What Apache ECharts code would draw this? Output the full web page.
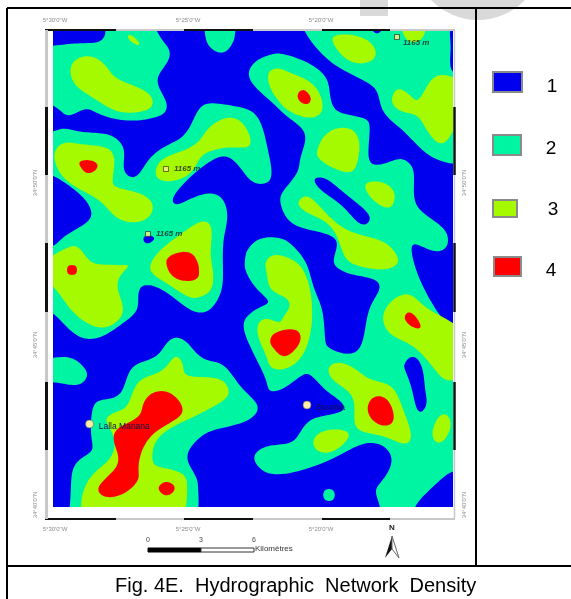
<!DOCTYPE html>
<html><head><meta charset="utf-8">
<style>html,body{margin:0;padding:0;background:#fff}#c{width:571px;height:599px}</style>
<script src="https://cdn.jsdelivr.net/npm/echarts@6/dist/echarts.min.js"></script>
</head><body><div id="c"></div>
<script>
// Map-sheet coordinates of the density zones (sheet units, y grows southward)
const sheetExtent = [[53,31],[453,31],[453,507],[53,507]];
const class2Zones = [
 [[40,50],[60,45],[83,43],[100,42],[106,33],[106,20],[150,20],[160,38],[170,50],[168,62],[157,77],[160,90],[167,103],[165,113],[153,118],[133,121],[110,118],[97,113],[85,108],[68,117],[57,107],[40,98]],
 [[205,18],[205,33],[207,43],[213,50],[221,53],[228,50],[234,40],[235,33],[235,18]],
 [[40,132],[53,132],[63,128],[80,132],[100,133],[115,137],[125,150],[123,170],[132,178],[140,173],[148,160],[163,147],[182,138],[192,123],[200,107],[210,103],[233,106],[257,113],[267,147],[272,173],[268,183],[253,183],[242,170],[227,155],[207,163],[172,197],[175,205],[188,200],[207,193],[222,197],[228,217],[223,240],[223,270],[222,290],[213,307],[203,313],[190,310],[173,297],[157,287],[143,285],[138,293],[138,310],[123,323],[100,338],[80,338],[63,323],[53,313],[40,305],[40,247],[53,247],[63,237],[80,227],[92,217],[88,203],[75,190],[53,175],[40,170]],
 [[40,360],[53,358],[70,357],[82,365],[88,375],[80,385],[65,384],[53,382],[40,380]],
 [[70,525],[70,507],[71,487],[73,467],[83,457],[93,450],[91,437],[92,410],[98,400],[120,397],[128,373],[138,363],[157,357],[167,342],[177,337],[188,343],[203,360],[223,363],[240,387],[257,403],[257,413],[243,423],[213,430],[200,437],[185,457],[197,477],[198,493],[195,525]],
 [[270,55],[280,53],[313,65],[328,80],[330,97],[337,113],[367,118],[370,130],[368,157],[373,165],[387,163],[402,158],[415,170],[413,203],[433,220],[447,232],[447,248],[433,252],[412,242],[413,260],[423,287],[443,320],[454,328],[468,330],[468,470],[453,470],[433,487],[413,508],[412,525],[385,525],[380,505],[375,490],[383,480],[393,460],[383,445],[363,443],[337,457],[303,470],[270,475],[255,463],[255,453],[270,445],[293,443],[303,427],[315,417],[343,412],[343,403],[327,392],[313,377],[305,373],[287,387],[270,392],[267,383],[262,370],[247,340],[243,320],[260,307],[270,302],[257,290],[245,270],[245,260],[247,250],[260,238],[280,238],[290,243],[307,263],[313,287],[323,310],[325,340],[328,348],[360,355],[367,310],[380,290],[377,280],[353,275],[337,268],[333,260],[338,243],[330,235],[310,230],[290,223],[280,203],[282,192],[298,173],[300,157],[307,133],[287,117],[272,102],[253,85],[248,72],[257,60]],
 [[303,18],[305,32],[318,50],[337,67],[367,82],[378,92],[382,112],[403,130],[420,148],[437,160],[468,163],[468,18]],
 [[329,489],[333,490],[335,495],[333,500],[329,501],[325,500],[323,495],[325,490]]
];
const class1Pockets = [
 [[315,178],[325,178],[337,187],[353,200],[368,213],[370,220],[365,225],[357,222],[342,205],[323,192],[315,183]],
 [[405,363],[410,357],[417,358],[423,370],[425,390],[427,403],[422,412],[417,410],[413,393],[408,377],[404,367]],
 [[372,25],[372,30],[377,34],[382,30],[382,25]],
 [[450,25],[451,45],[450,60],[452,72],[460,72],[460,25]],
 [[143,238],[148,235],[155,238],[150,243],[145,243]]
];
const class3Zones = [
 [[128,35],[133,36],[140,44],[138,45],[133,43],[128,38]],
 [[71,65],[80,57],[95,57],[107,67],[115,78],[140,88],[152,97],[152,107],[140,112],[117,112],[97,100],[78,88],[71,77]],
 [[55,150],[65,142],[83,145],[110,148],[115,163],[112,183],[118,188],[140,193],[153,203],[150,217],[133,223],[115,217],[103,203],[87,193],[65,180],[55,163]],
 [[155,177],[160,160],[180,152],[198,143],[208,128],[227,117],[243,122],[252,147],[233,147],[213,150],[200,157],[192,173],[170,182]],
 [[44,262],[63,250],[77,245],[88,260],[100,265],[128,265],[128,267],[115,283],[125,310],[113,325],[97,328],[73,313],[57,290],[44,277]],
 [[148,270],[160,250],[180,235],[203,220],[212,227],[210,253],[213,270],[212,290],[200,297],[190,298],[167,283]],
 [[83,525],[84,487],[97,470],[112,457],[115,437],[105,420],[113,413],[128,407],[137,380],[163,372],[175,355],[183,363],[185,377],[220,377],[230,393],[220,403],[187,420],[157,437],[152,460],[157,467],[185,473],[187,493],[180,525]],
 [[265,263],[272,255],[287,257],[305,270],[313,317],[303,357],[283,370],[270,367],[267,357],[258,337],[258,323],[267,318],[280,323],[283,317],[290,307],[287,298],[270,290],[267,273]],
 [[268,72],[278,68],[290,73],[313,83],[323,103],[320,115],[307,118],[287,110],[278,100],[270,88]],
 [[317,150],[327,132],[347,127],[359,137],[358,160],[352,173],[333,168],[318,158]],
 [[332,35],[367,38],[377,55],[367,63],[350,62],[335,47]],
 [[400,22],[425,22],[424,36],[417,42],[408,41],[403,33]],
 [[392,97],[398,88],[410,95],[418,102],[430,80],[443,74],[462,83],[462,107],[447,142],[437,143],[425,127],[417,115],[402,112],[393,105]],
 [[364,183],[383,182],[395,192],[392,207],[383,207],[370,197]],
 [[297,203],[307,195],[320,207],[347,232],[383,240],[398,257],[397,265],[383,270],[355,265],[345,258],[338,238],[327,222],[307,213]],
 [[382,317],[392,300],[410,293],[427,310],[465,330],[465,372],[447,382],[433,367],[413,345],[390,335]],
 [[328,367],[340,362],[357,370],[370,380],[392,385],[403,410],[412,437],[405,445],[383,435],[355,430],[355,407],[350,392],[332,380]],
 [[312,442],[323,430],[352,432],[337,450],[320,453]],
 [[432,430],[443,412],[452,423],[443,442],[435,442]]
];
const class4Zones = [
 [[79,161],[95,161],[98,168],[88,174],[81,168]],
 [[167,257],[190,251],[198,263],[199,270],[198,279],[183,281],[172,276],[167,267]],
 [[72,265],[76,266],[77,270],[76,274],[72,275],[68,274],[67,270],[68,266]],
 [[303,89],[311,97],[309,104],[301,103],[297,95]],
 [[143,403],[153,392],[170,392],[183,407],[180,417],[157,430],[143,447],[138,468],[139,480],[122,495],[103,497],[97,487],[115,470],[119,457],[113,440],[117,428],[140,417]],
 [[158,487],[167,481],[176,488],[168,496],[161,493]],
 [[272,335],[283,330],[298,330],[301,340],[293,352],[283,357],[275,350],[270,343]],
 [[404,317],[410,311],[421,325],[419,329],[409,325]],
 [[367,408],[373,397],[385,397],[393,410],[393,423],[383,426],[372,420]]
];
const classColors = {c1:'#0000ee', c2:'#00f5a3', c3:'#a6fa00', c4:'#ff0000'};
const legendLabels = ['1','2','3','4'];
const summits = [{name:'1165 m',value:[166,169]},{name:'1165 m',value:[148,234]},{name:'1165 m',value:[397,37],label:{offset:[-2,6]}}];
const towns = [{name:'Lalla Manana',value:[89.5,424]},{name:'Boumia',value:[307,405]}];
const lonTicks = [[55,"5°30'0\"W"],[188,"5°25'0\"W"],[321,"5°20'0\"W"]];
const latTicks = [[183,"34°50'0\"N"],[345,"34°45'0\"N"],[505,"34°40'0\"N"]];
const frameLonBreaks = [45,116,184,253,322,390,455];
const frameLatBreaks = [30,107,175,243,312,382,450,519];
const scaleLabels = ['0','3','6'];
const caption = 'Fig. 4E.  Hydrographic  Network  Density';

// rounded outline through the traced points: centripetal Catmull-Rom, then a light moving average
function roundOutline(pts){
  const n=pts.length, out=[], d=(a,b)=>Math.pow(Math.hypot(a[0]-b[0],a[1]-b[1])||1e-3,0.5);
  const lerp=(a,b,ta,tb,t)=>[a[0]+(b[0]-a[0])*(t-ta)/(tb-ta),a[1]+(b[1]-a[1])*(t-ta)/(tb-ta)];
  const S=8;
  for(let i=0;i<n;i++){
    const p0=pts[(i+n-1)%n],p1=pts[i],p2=pts[(i+1)%n],p3=pts[(i+2)%n];
    const t0=0,t1=t0+d(p0,p1),t2=t1+d(p1,p2),t3=t2+d(p2,p3);
    for(let s=0;s<S;s++){
      const t=t1+(t2-t1)*s/S;
      const a1=lerp(p0,p1,t0,t1,t),a2=lerp(p1,p2,t1,t2,t),a3=lerp(p2,p3,t2,t3,t);
      const b1=lerp(a1,a2,t0,t2,t),b2=lerp(a2,a3,t1,t3,t);
      out.push(lerp(b1,b2,t1,t2,t));
    }
  }
  const m=out.length, W=4;
  return out.map((_,i)=>{
    let x=0,y=0;
    for(let k=-W;k<=W;k++){const q=out[(i+k+m)%m];x+=q[0];y+=q[1];}
    return [x/(2*W+1),y/(2*W+1)];
  });
}
function zoneSeries(name, zones, color, round){
  return {type:'custom', name, coordinateSystem:'cartesian2d', silent:true, animation:false,
    data:zones.map((z,i)=>i),
    renderItem(params, api){
      const a = api.coord(sheetExtent[0]), b = api.coord(sheetExtent[2]);
      const z = zones[params.dataIndex];
      return {type:'polygon',
        shape:{points:(round?roundOutline(z):z).map(p=>api.coord(p))},
        style:{fill:color},
        clipPath:{type:'rect', shape:{x:a[0],y:a[1],width:b[0]-a[0],height:b[1]-a[1]}}};
    }};
}
function frameSeries(){
  const segs=[];
  frameLonBreaks.slice(0,-1).forEach((v,i)=>{const dark=i%2==0;
    segs.push({p:[[v,30],[frameLonBreaks[i+1],30]],dark,w:2});
    segs.push({p:[[v,519],[frameLonBreaks[i+1],519]],dark,w:2});});
  frameLatBreaks.slice(0,-1).forEach((v,i)=>{const dark=i%2==1;
    segs.push({p:[[46.5,v],[46.5,frameLatBreaks[i+1]]],dark,w:3});
    segs.push({p:[[454.5,v],[454.5,frameLatBreaks[i+1]]],dark,w:dark?2.5:1.5});});
  return {type:'custom', name:'Frame', silent:true, animation:false, data:segs.map((s,i)=>i),
    renderItem(params, api){
      const s=segs[params.dataIndex], a=api.coord(s.p[0]), b=api.coord(s.p[1]);
      return {type:'line', shape:{x1:a[0],y1:a[1],x2:b[0],y2:b[1]},
        style:{stroke:s.dark?'#111':'#c8c8c8', lineWidth:s.w}};
    }};
}
const tickAxis = (ticks, extra)=>Object.assign({
  type:'value', axisLine:{show:false}, axisTick:{show:false}, splitLine:{show:false},
  axisLabel:{customValues:ticks.map(t=>t[0]), color:'#8c8c8c', fontSize:6, fontFamily:'Liberation Sans',
    formatter:v=>{const t=ticks.find(k=>k[0]===v);return t?t[1]:'';}}
},extra);

const F='Liberation Sans';
const gfx=[];
// faded background shapes
gfx.push({type:'circle',z:-1,shape:{cx:478,cy:-45,r:65},style:{fill:'#d9d9d9'}});
gfx.push({type:'rect',z:-1,shape:{x:360,y:0,width:28,height:16},style:{fill:'#d9d9d9'}});
// page rules
[[7,8,7,599],[7,8,571,8],[476,8,476,566],[7,566,571,566]].forEach(l=>gfx.push({type:'line',shape:{x1:l[0],y1:l[1],x2:l[2],y2:l[3]},style:{stroke:'#000',lineWidth:2}}));
// legend
[[493,72,29,20,552,87],[493,135,28,20,551,149],[493,200,24,17,553,210],[494,257,27,19,551,271]].forEach((r,i)=>{
  gfx.push({type:'rect',shape:{x:r[0],y:r[1],width:r[2],height:r[3]},style:{fill:classColors['c'+(i+1)],stroke:'#8a8a8a',lineWidth:2}});
  gfx.push({type:'text',style:{x:r[4],y:r[5],text:legendLabels[i],font:'19px '+F,fill:'#000',align:'center',verticalAlign:'middle'}});
});
// scale bar
gfx.push({type:'rect',shape:{x:148,y:548,width:53,height:4},style:{fill:'#000',stroke:'#000',lineWidth:1}});
gfx.push({type:'rect',shape:{x:201,y:548,width:53,height:4},style:{fill:'#fff',stroke:'#333',lineWidth:1}});
scaleLabels.forEach((t,i)=>gfx.push({type:'text',style:{x:148+53*i,y:540,text:t,font:'7px '+F,fill:'#444',align:'center',verticalAlign:'middle'}}));
gfx.push({type:'text',style:{x:255,y:549,text:'Kilomètres',font:'8px '+F,fill:'#333',verticalAlign:'middle'}});
// north arrow
gfx.push({type:'text',style:{x:392,y:528,text:'N',font:'bold 8px '+F,fill:'#222',align:'center',verticalAlign:'middle'}});
gfx.push({type:'polygon',shape:{points:[[392,536],[385,558],[392,549]]},style:{fill:'#111'}});
gfx.push({type:'polygon',shape:{points:[[392,536],[399,558],[392,549]]},style:{fill:'#fff',stroke:'#666',lineWidth:1}});
// caption
gfx.push({type:'text',style:{x:115,y:586,text:caption,font:'20px '+F,fill:'#000',align:'left',verticalAlign:'middle'}});

const option={
  animation:false, backgroundColor:'transparent',
  grid:{left:45,top:30,width:409,height:489,containLabel:false},
  xAxis:[tickAxis(lonTicks,{min:45,max:454,position:'bottom'}),tickAxis(lonTicks,{min:45,max:454,position:'top'})],
  yAxis:[tickAxis(latTicks,{min:30,max:519,inverse:true,position:'left'}),tickAxis(latTicks,{min:30,max:519,inverse:true,position:'right'})],
  graphic:{elements:gfx},
  series:[
    zoneSeries('Class 1',[sheetExtent],classColors.c1,false),
    zoneSeries('Class 2',class2Zones,classColors.c2,true),
    zoneSeries('Class 1 pockets',class1Pockets,classColors.c1,true),
    zoneSeries('Class 3',class3Zones,classColors.c3,true),
    zoneSeries('Class 4',class4Zones,classColors.c4,true),
    frameSeries(),
    {type:'scatter',name:'Summits',silent:true,symbol:'rect',symbolSize:5,data:summits,
     itemStyle:{color:'#ffee80',borderColor:'#222',borderWidth:0.8},
     label:{show:true,position:'right',distance:5,formatter:'{b}',fontSize:8,fontStyle:'italic',fontWeight:'bold',color:'#222',fontFamily:F}},
    {type:'scatter',name:'Towns',silent:true,symbol:'circle',symbolSize:8,data:towns,
     itemStyle:{color:'#fff0a8',opacity:1,borderColor:'#555',borderWidth:0.5},
     label:{show:true,position:'right',distance:5,formatter:'{b}',fontSize:8.5,color:'#10104a',fontFamily:F,offset:[0,3]}}
  ]
};
option.yAxis.forEach(a=>{a.axisLabel.rotate=90;a.axisLabel.margin=7;});
option.xAxis.forEach(a=>{a.axisLabel.margin=7;});
const chart=echarts.init(document.getElementById('c'),null,{renderer:'canvas'});
chart.setOption(option);
</script></body></html>
